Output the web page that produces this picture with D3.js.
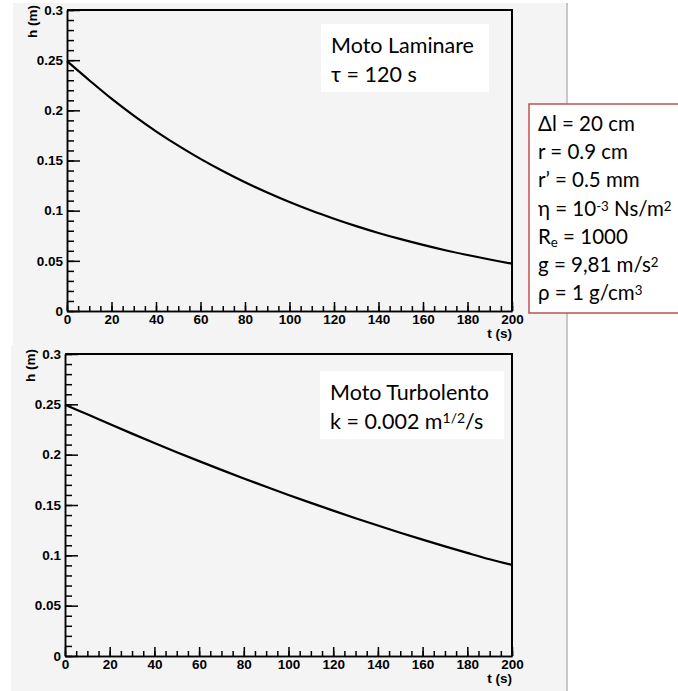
<!DOCTYPE html>
<html>
<head>
<meta charset="utf-8">
<script src="https://cdn.jsdelivr.net/npm/d3@7"></script>
<style>
  body { margin: 0; background: #fff; }
  svg { display: block; }
  .axis path, .axis line { stroke: #000; stroke-width: 1.5px; }
</style>
</head>
<body>
<div id="chart"></div>
<script>
// time samples (s)
const times = [0, 10, 20, 30, 40, 50, 60, 70, 80, 90, 100, 110, 120, 130, 140, 150, 160, 170, 180, 190, 200];
// h (m), laminar flow
const laminarH = [0.2490, 0.2300, 0.2116, 0.1947, 0.1791, 0.1648, 0.1516, 0.1395, 0.1283, 0.1181, 0.1086,
                  0.0999, 0.0920, 0.0846, 0.0778, 0.0716, 0.0659, 0.0606, 0.0558, 0.0513, 0.0472];
// h (m), turbulent flow
const turbulentH = [0.2495, 0.2401, 0.2304, 0.2209, 0.2116, 0.2025, 0.1936, 0.1849, 0.1764, 0.1681, 0.1600,
                    0.1521, 0.1444, 0.1369, 0.1296, 0.1225, 0.1156, 0.1089, 0.1024, 0.0961, 0.0905];
const xMajorTicks = [0, 20, 40, 60, 80, 100, 120, 140, 160, 180, 200];
const yMajorTicks = [0, 0.05, 0.1, 0.15, 0.2, 0.25, 0.3];
const yTickLabels = ["0", "0.05", "0.1", "0.15", "0.2", "0.25", "0.3"];
// [text, position]: 0 normal, 1 superscript, -1 subscript
const paramLines = [
  [["Δl = 20 cm", 0]],
  [["r = 0.9 cm", 0]],
  [["r’ = 0.5 mm", 0]],
  [["η = 10", 0], ["-3", 1], [" Ns/m", 0], ["2", 1]],
  [["R", 0], ["e", -1], [" = 1000", 0]],
  [["g = 9,81 m/s", 0], ["2", 1]],
  [["ρ = 1 g/cm", 0], ["3", 1]]
];

const W = 678, H = 691;
const tickFont = "'Liberation Sans', Arial, sans-serif";
const noteFont = "Lato, 'Open Sans', sans-serif";

const svg = d3.select("#chart").append("svg")
    .attr("width", W)
    .attr("height", H);

// panel backgrounds
svg.append("rect").attr("x", 13).attr("y", 3).attr("width", 554).attr("height", 342).attr("fill", "#f4f4f4");
svg.append("rect").attr("x", 11).attr("y", 345).attr("width", 556).attr("height", 346).attr("fill", "#f4f4f4");
svg.append("line").attr("x1", 567).attr("x2", 567).attr("y1", 3).attr("y2", H)
    .attr("stroke", "#c8c8c8").attr("stroke-width", 2);

function styleTicks(sel) {
  sel.selectAll("text")
      .style("font-family", tickFont)
      .style("font-weight", "bold")
      .style("font-size", "13.5px")
      .style("fill", "#000");
}

function writeRich(t, parts, size) {
  parts.forEach(([s, pos]) => {
    const sp = t.append("tspan").text(s);
    if (pos === 1) sp.attr("baseline-shift", "40%").style("font-size", size * 0.65 + "px");
    if (pos === -1) sp.attr("baseline-shift", "-25%").style("font-size", size * 0.65 + "px");
  });
}

function drawPanel(box, values, label) {
  const g = svg.append("g");
  const x = d3.scaleLinear().domain([0, 200]).range([box.left, box.right]);
  const y = d3.scaleLinear().domain([0, 0.3]).range([box.bottom, box.top]);

  // minor ticks
  g.append("g").attr("class", "axis")
      .attr("transform", "translate(0," + box.bottom + ")")
      .call(d3.axisBottom(x).tickValues(d3.range(0, 201, 5)).tickSize(-5).tickSizeOuter(0).tickFormat(""));
  g.append("g").attr("class", "axis")
      .attr("transform", "translate(" + box.left + ",0)")
      .call(d3.axisLeft(y).tickValues(d3.range(0, 31, 1).map(d => d / 100)).tickSize(-7).tickSizeOuter(0).tickFormat(""));

  // major ticks
  g.append("g").attr("class", "axis")
      .attr("transform", "translate(0," + box.bottom + ")")
      .call(d3.axisBottom(x).tickValues(xMajorTicks).tickSize(-9).tickSizeOuter(0).tickPadding(3))
      .call(styleTicks);
  g.append("g").attr("class", "axis")
      .attr("transform", "translate(" + box.left + ",0)")
      .call(d3.axisLeft(y).tickValues(yMajorTicks).tickSize(-13).tickSizeOuter(0).tickPadding(4)
        .tickFormat((d, i) => yTickLabels[i]))
      .call(styleTicks);

  // frame top & right
  g.append("path")
      .attr("d", "M" + box.left + "," + box.top + "H" + box.right + "V" + box.bottom)
      .attr("fill", "none").attr("stroke", "#000").attr("stroke-width", 2);

  // axis titles
  g.append("text")
      .attr("transform", "translate(" + (box.left - 30) + "," + (box.top - 5) + ") rotate(-90)")
      .attr("text-anchor", "end")
      .style("font-family", tickFont)
      .style("font-weight", "bold").style("font-size", "13.5px")
      .text("h (m)");
  g.append("text")
      .attr("x", box.right).attr("y", box.bottom + 27)
      .attr("text-anchor", "end")
      .style("font-family", tickFont)
      .style("font-weight", "bold").style("font-size", "13.5px")
      .text("t (s)");

  const line = d3.line()
      .x((d, i) => x(times[i]))
      .y(d => y(d))
      .curve(d3.curveCatmullRom);
  g.append("path")
      .datum(values)
      .attr("d", line)
      .attr("fill", "none")
      .attr("stroke", "#000")
      .attr("stroke-width", 2.2);

  // label box
  g.append("rect")
      .attr("x", label.x).attr("y", label.y)
      .attr("width", label.w).attr("height", label.h)
      .attr("fill", "#fff");
  label.lines.forEach((ln, i) => {
    const t = g.append("text")
        .style("font-family", noteFont).style("font-size", "21.5px").style("fill", "#000")
        .attr("x", label.x + 10).attr("y", label.y + 29 + i * 29);
    writeRich(t, ln, 21.5);
  });
}

drawPanel({left: 67, right: 512, top: 10, bottom: 311}, laminarH,
  {x: 321, y: 24, w: 168, h: 68, lines: [[["Moto Laminare", 0]], [["τ = 120 s", 0]]]});
drawPanel({left: 65, right: 512, top: 354, bottom: 656}, turbulentH,
  {x: 320, y: 371, w: 184, h: 68, lines: [[["Moto Turbolento", 0]], [["k = 0.002 m", 0], ["1/2", 1], ["/s", 0]]]});

// parameter box
svg.append("rect")
    .attr("x", 529).attr("y", 104)
    .attr("width", 170).attr("height", 209)
    .attr("fill", "#fff")
    .attr("stroke", "#c0504d").attr("stroke-width", 1.5);

paramLines.forEach((ln, i) => {
  const t = svg.append("text")
      .style("font-family", noteFont).style("font-size", "20.5px").style("fill", "#000")
      .attr("x", 538).attr("y", 131 + i * 28.2);
  writeRich(t, ln, 20.5);
});
</script>
</body>
</html>
